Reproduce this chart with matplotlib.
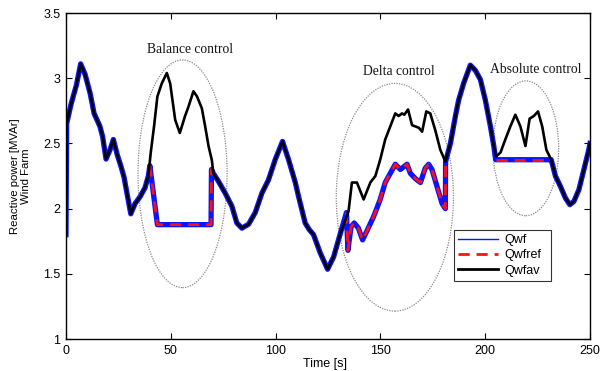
import numpy as np
import matplotlib
matplotlib.use("Agg")
import matplotlib.pyplot as plt
from matplotlib.patches import Ellipse
from matplotlib.lines import Line2D
from matplotlib.ticker import FuncFormatter

# wind farm average reactive power (Qwfav)
t_av = [0, 0.3, 2.4, 5.0, 7.0, 9.1, 11.5, 13.4, 16.2, 17.5, 19.1, 21.0, 22.6,
        24.5, 26.3, 27.7, 30.9, 33.0, 35.3, 37.7, 39.3, 40.4, 42.0, 43.6, 45.7,
        48.1, 49.7, 52.1, 54.3, 56.8, 58.4, 60.8, 62.5, 64.8, 66.4, 68.0, 69.6,
        70.3, 72.7, 75.9, 79.1, 81.5, 83.9, 87.1, 90.3, 93.5, 96.6, 99.8, 103.3,
        106.2, 109.4, 111.0, 114.1, 116.0, 118.1, 121.3, 124.8, 127.7, 130.9,
        134.8, 136.4, 138.8, 142.0, 145.2, 147.6, 149.9, 152.3, 154.7, 157.1,
        158.7, 160.3, 161.4, 163.2, 165.1, 168.3, 169.9, 171.9, 173.8, 176.2,
        178.6, 181.0, 183.4, 185.8, 187.3, 189.7, 192.9, 195.3, 197.7, 200.1,
        202.5, 204.1, 205.2, 207.3, 209.6, 212.0, 214.4, 216.8, 219.2, 221.2,
        223.2, 225.2, 227.2, 229.2, 231.5, 233.5, 235.9, 238.3, 240.4, 242.3,
        244.7, 247.1, 249.4, 250]
q_av = [1.80, 2.65, 2.80, 2.95, 3.11, 3.03, 2.885, 2.73, 2.63, 2.55, 2.38, 2.45,
        2.53, 2.41, 2.32, 2.24, 1.96, 2.04, 2.09, 2.16, 2.25, 2.425, 2.63, 2.86,
        2.96, 3.04, 2.96, 2.68, 2.58, 2.71, 2.78, 2.90, 2.86, 2.77, 2.63, 2.48,
        2.37, 2.27, 2.21, 2.12, 2.02, 1.89, 1.85, 1.88, 1.97, 2.12, 2.22, 2.375,
        2.515, 2.375, 2.20, 2.09, 1.89, 1.84, 1.80, 1.66, 1.535, 1.63, 1.81,
        1.98, 2.20, 2.20, 2.07, 2.20, 2.25, 2.375, 2.53, 2.63, 2.73, 2.71, 2.73,
        2.72, 2.76, 2.64, 2.62, 2.59, 2.745, 2.73, 2.60, 2.45, 2.36, 2.50, 2.71,
        2.83, 2.96, 3.10, 3.06, 2.99, 2.83, 2.63, 2.48, 2.40, 2.43, 2.53, 2.63,
        2.72, 2.63, 2.48, 2.69, 2.71, 2.745, 2.63, 2.45, 2.375, 2.25, 2.17,
        2.08, 2.03, 2.055, 2.145, 2.30, 2.45, 2.50]

# reference (Qwfref) during the three control modes
t_bal = [40.0, 43.6, 69.2, 69.4, 70.3]
q_bal = [2.33, 1.877, 1.877, 2.30, 2.27]

t_delta = [133.8, 134.5, 136.0, 137.5, 139.5, 141.5, 143.6, 146.8, 149.9, 152.3,
           154.7, 157.1, 159.5, 162.7, 164.3, 166.7, 169.1, 171.4, 173.0, 174.6,
           177.0, 179.4, 181.0, 181.1]
q_delta = [1.97, 1.68, 1.86, 1.89, 1.85, 1.76, 1.83, 1.94, 2.07, 2.20, 2.27,
           2.34, 2.30, 2.34, 2.27, 2.23, 2.20, 2.31, 2.34, 2.30, 2.17, 2.04,
           2.00, 2.36]

t_abs = [205.0, 231.0]
q_abs = [2.375, 2.375]

ref_parts = [(t_bal, q_bal), (t_delta, q_delta), (t_abs, q_abs)]

# Qwf follows the average except where a control mode is active
t_av_a = np.array(t_av)
q_av_a = np.array(q_av)
keep = np.ones(len(t_av_a), dtype=bool)
for tt, _ in ref_parts:
    keep &= ~((t_av_a >= tt[0]) & (t_av_a <= tt[-1]))
t_wf = np.concatenate([t_av_a[keep]] + [np.array(tt) for tt, _ in ref_parts])
q_wf = np.concatenate([q_av_a[keep]] + [np.array(qq) for _, qq in ref_parts])
order = np.argsort(t_wf, kind="stable")
t_wf, q_wf = t_wf[order], q_wf[order]

regions = [("Balance control", 55.6, 2.267, 42.5, 1.746, 59.2, 3.217),
           ("Delta control", 156.9, 2.087, 55.9, 1.746, 158.7, 3.05),
           ("Absolute control", 219.4, 2.4625, 31.3, 1.034, 224.2, 3.069)]

plt.rcParams["font.family"] = ["Liberation Sans", "DejaVu Sans"]

fig = plt.figure(figsize=(6.01, 3.71), dpi=100)
ax = fig.add_axes([66 / 601, 32 / 371, 524 / 601, 326 / 371])

ax.plot(t_wf, q_wf, color="#0a14ff", lw=3.8, solid_joinstyle="round")
for tt, qq in ref_parts:
    ax.plot(tt, qq, color="#ff1010", lw=2, ls=(0, (4, 2.5)))
ax.plot(t_av, q_av, color="black", lw=1.9)

for name, cx, cy, w, h, tx, ty in regions:
    ax.add_patch(Ellipse((cx, cy), w, h, fill=False, ls=(0, (1, 1)),
                         color="#8a8a8a", lw=0.9))
    ax.text(tx, ty, name, ha="center", va="center", fontsize=9.8,
            family=["Liberation Serif", "DejaVu Serif"], color="#151515")

ax.set_xlim(0, 250)
ax.set_ylim(1, 3.5)
ax.set_xticks([0, 50, 100, 150, 200, 250])
ax.set_yticks([1, 1.5, 2, 2.5, 3, 3.5])
ax.yaxis.set_major_formatter(FuncFormatter(lambda v, p: "%g" % v))
ax.tick_params(direction="in", top=True, right=True, length=4, width=0.8,
               labelsize=9, pad=4)
for s in ax.spines.values():
    s.set_linewidth(1.0)

handles = [Line2D([], [], color="#0a14ff", lw=1),
           Line2D([], [], color="#ff1010", lw=2, ls=(0, (4, 2.5))),
           Line2D([], [], color="black", lw=2)]
leg = ax.legend(handles, ["Qwf", "Qwfref", "Qwfav"], loc="lower left",
                bbox_to_anchor=(0.74, 0.178, 0.186, 0.172), mode="expand",
                fontsize=9, frameon=True, fancybox=False, borderpad=0.35,
                handlelength=3.2, handletextpad=0.5, labelspacing=0.25,
                borderaxespad=0)
leg.get_frame().set_edgecolor("black")
leg.get_frame().set_linewidth(0.8)

fig.text(20.5 / 601, 0.525, "Reactive power [MVAr]\nWind Farm", rotation=90,
         ha="center", va="center", multialignment="center", fontsize=8.2,
         linespacing=1.15)
fig.text(325 / 601, 7 / 371, "Time [s]", ha="center", va="center", fontsize=9)

fig.savefig("out.png", dpi=100)
